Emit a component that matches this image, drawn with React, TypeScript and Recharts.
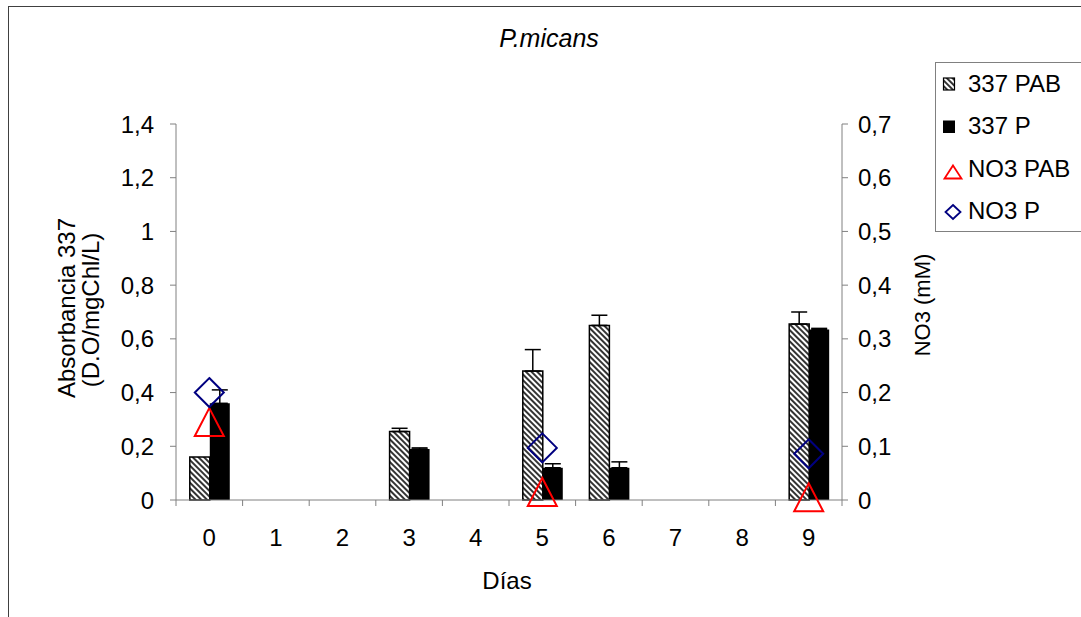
import { ComposedChart, Bar, Scatter, XAxis, YAxis, ErrorBar, Legend } from 'recharts';

const days = ['0', '1', '2', '3', '4', '5', '6', '7', '8', '9'];
const abs337PAB = [0.16, null, null, 0.255, null, 0.48, 0.65, null, null, 0.655];
const abs337PABErr = [null, null, null, 0.012, null, 0.08, 0.038, null, null, 0.045];
const abs337P = [0.36, null, null, 0.19, null, 0.12, 0.12, null, null, 0.635];
const abs337PErr = [0.05, null, null, 0.004, null, 0.015, 0.022, null, null, 0.004];
const no3PAB = [0.145, null, null, null, null, 0.015, null, null, null, 0.005];
const no3P = [0.2, null, null, null, null, 0.097, null, null, null, 0.086];
const leftTicks = [0, 0.2, 0.4, 0.6, 0.8, 1, 1.2, 1.4];
const rightTicks = [0, 0.1, 0.2, 0.3, 0.4, 0.5, 0.6, 0.7];

const data = days.map((d, i) => ({
  day: d,
  pab: abs337PAB[i],
  pabErr: abs337PABErr[i] == null ? null : [0, abs337PABErr[i]],
  p: abs337P[i],
  pErr: abs337PErr[i] == null ? null : [0, abs337PErr[i]],
  no3pab: no3PAB[i],
  no3p: no3P[i],
}));

const FONT = '"Liberation Sans", Arial, sans-serif';
const AXIS = '#808080';
const PLOT_LEFT = 176;
const PLOT_RIGHT = 842;
const PLOT_BOTTOM = 500;
const BAND = (PLOT_RIGHT - PLOT_LEFT) / days.length;

const comma = (v: number) => String(v).replace('.', ',');

const DayTick = ({ x, payload, index }: any) => (
  <g>
    <line x1={x - BAND / 2} x2={x - BAND / 2} y1={PLOT_BOTTOM} y2={PLOT_BOTTOM + 6} stroke={AXIS} />
    {index === days.length - 1 && (
      <line x1={x + BAND / 2} x2={x + BAND / 2} y1={PLOT_BOTTOM} y2={PLOT_BOTTOM + 6} stroke={AXIS} />
    )}
    <text x={x} y={PLOT_BOTTOM + 46} textAnchor="middle" fontSize={24} fontFamily={FONT} fill="#000">
      {payload.value}
    </text>
  </g>
);

const Triangle = (props: any) => {
  const { cx, cy, payload } = props;
  if (payload?.no3pab == null || cx == null || cy == null) return <g />;
  return (
    <polygon
      points={`${cx},${cy - 14} ${cx + 14.5},${cy + 14} ${cx - 14.5},${cy + 14}`}
      fill="none"
      stroke="#ff0000"
      strokeWidth={2}
    />
  );
};

const Diamond = (props: any) => {
  const { cx, cy, payload } = props;
  if (payload?.no3p == null || cx == null || cy == null) return <g />;
  return (
    <polygon
      points={`${cx},${cy - 14.5} ${cx + 14.5},${cy} ${cx},${cy + 14.5} ${cx - 14.5},${cy}`}
      fill="none"
      stroke="#000080"
      strokeWidth={2}
    />
  );
};

const legendItems = [
  { name: '337 PAB', kind: 'hatch' },
  { name: '337 P', kind: 'solid' },
  { name: 'NO3 PAB', kind: 'tri' },
  { name: 'NO3 P', kind: 'dia' },
];

const LegendBox = () => (
  <svg width={170} height={166} style={{ display: 'block' }}>
    <defs>
      <pattern id="hatchLeg" width={4} height={4} patternUnits="userSpaceOnUse" patternTransform="rotate(-45)">
        <rect width={4} height={4} fill="#fff" />
        <line x1={1} y1={0} x2={1} y2={4} stroke="#000" strokeWidth={1.6} />
      </pattern>
    </defs>
    {legendItems.map((it, i) => {
      const b = 28.5 + i * 42.5;
      let icon;
      if (it.kind === 'hatch') icon = <rect x={7.5} y={b - 13.5} width={11} height={12} fill="url(#hatchLeg)" stroke="#000" strokeWidth={1.2} />;
      else if (it.kind === 'solid') icon = <rect x={7} y={b - 13.5} width={12} height={12.5} fill="#000" />;
      else if (it.kind === 'tri') icon = <polygon points={`${17},${b - 11} ${25.5},${b + 2} ${8.5},${b + 2}`} fill="none" stroke="#ff0000" strokeWidth={1.8} />;
      else icon = <polygon points={`${17},${b - 14} ${24.5},${b - 7} ${17},${b} ${9.5},${b - 7}`} fill="none" stroke="#000080" strokeWidth={1.8} />;
      return (
        <g key={it.name}>
          {icon}
          <text x={32} y={b} fontSize={24} fontFamily={FONT} fill="#000">{it.name}</text>
        </g>
      );
    })}
  </svg>
);

export default function App() {
  return (
    <div style={{ position: 'absolute', left: 0, top: 0, width: 1081, height: 617, overflow: 'hidden', background: '#fff' }}>
      <div style={{ position: 'absolute', left: 8, top: 6, width: 1200, height: 800, border: '1px solid #404040' }} />
      <div style={{ position: 'absolute', left: 0, top: 0 }}>
        <ComposedChart
          width={1081}
          height={617}
          data={data}
          margin={{ top: 124, right: 0, bottom: 57, left: 0 }}
          barCategoryGap="20.7%"
          barGap={0}
        >
          <defs>
            <pattern id="hatch" width={4} height={4} patternUnits="userSpaceOnUse" patternTransform="rotate(-45)">
              <rect width={4} height={4} fill="#fff" />
              <line x1={1} y1={0} x2={1} y2={4} stroke="#000" strokeWidth={1.6} />
            </pattern>
          </defs>
          <XAxis
            dataKey="day"
            height={60}
            stroke={AXIS}
            tickLine={false}
            tick={<DayTick />}
            interval={0}
          />
          <YAxis
            yAxisId="left"
            width={176}
            domain={[0, 1.4]}
            ticks={leftTicks}
            tickFormatter={comma}
            stroke={AXIS}
            tickSize={6}
            tickMargin={16}
            tick={{ fill: '#000', fontSize: 24, fontFamily: FONT }}
            interval={0}
          />
          <YAxis
            yAxisId="right"
            orientation="right"
            width={239}
            domain={[0, 0.7]}
            ticks={rightTicks}
            tickFormatter={comma}
            stroke={AXIS}
            tickSize={6}
            tickMargin={10}
            tick={{ fill: '#000', fontSize: 24, fontFamily: FONT, textAnchor: 'start' }}
            interval={0}
          />
          <Bar yAxisId="left" dataKey="pab" name="337 PAB" fill="url(#hatch)" stroke="#000" strokeWidth={1.5} isAnimationActive={false}>
            <ErrorBar dataKey="pabErr" direction="y" width={8} stroke="#000" strokeWidth={1.5} />
          </Bar>
          <Bar yAxisId="left" dataKey="p" name="337 P" fill="#000" isAnimationActive={false}>
            <ErrorBar dataKey="pErr" direction="y" width={8} stroke="#000" strokeWidth={1.5} />
          </Bar>
          <Scatter yAxisId="right" dataKey="no3pab" name="NO3 PAB" shape={<Triangle />} isAnimationActive={false} />
          <Scatter yAxisId="right" dataKey="no3p" name="NO3 P" shape={<Diamond />} isAnimationActive={false} />
          <Legend
            layout="vertical"
            align="center"
            verticalAlign="middle"
            content={<LegendBox />}
            wrapperStyle={{ left: 935, top: 62, width: 170, height: 168, border: '1px solid #808080', background: '#fff' }}
          />
          <text x={549} y={47} textAnchor="middle" fontSize={25} fontStyle="italic" fontFamily={FONT} fill="#000">P.micans</text>
          <text x={507} y={589} textAnchor="middle" fontSize={24} fontFamily={FONT} fill="#000">Días</text>
          <text transform="translate(75,308) rotate(-90)" textAnchor="middle" fontSize={24} fontFamily={FONT} fill="#000">Absorbancia 337</text>
          <text transform="translate(99,310) rotate(-90)" textAnchor="middle" fontSize={24} fontFamily={FONT} fill="#000">(D.O/mgChl/L)</text>
          <text transform="translate(930,305) rotate(-90)" textAnchor="middle" fontSize={22} fontFamily={FONT} fill="#000">NO3 (mM)</text>
        </ComposedChart>
      </div>
    </div>
  );
}
